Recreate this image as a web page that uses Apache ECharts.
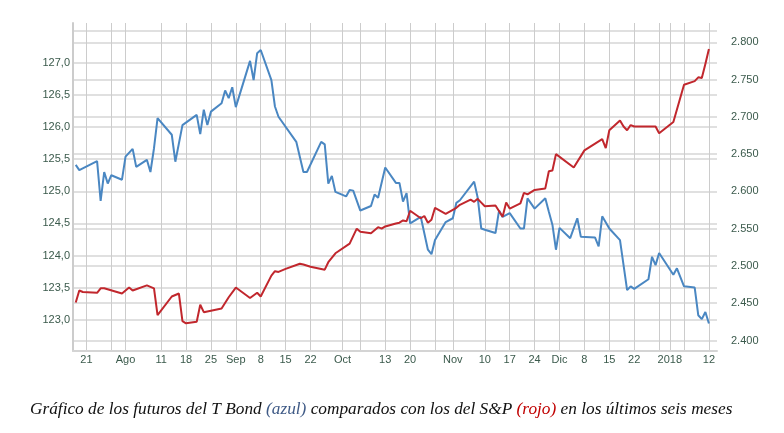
<!DOCTYPE html>
<html><head><meta charset="utf-8">
<script src="https://cdn.jsdelivr.net/npm/echarts@6/dist/echarts.min.js"></script>
<style>html,body{margin:0;padding:0;background:#fff}#c{width:784px;height:433px}</style>
</head><body><div id="c"></div>
<script>
// T-Bond futures (left axis)
const bondDates = ['2017-07-18','2017-07-19','2017-07-24','2017-07-25','2017-07-26','2017-07-27','2017-07-28','2017-07-31',
'2017-08-01','2017-08-03','2017-08-04','2017-08-07','2017-08-08','2017-08-09','2017-08-10','2017-08-14','2017-08-15','2017-08-17',
'2017-08-21','2017-08-22','2017-08-23','2017-08-24','2017-08-25','2017-08-28','2017-08-29','2017-08-30','2017-08-31',
'2017-09-01','2017-09-05','2017-09-06','2017-09-07','2017-09-08','2017-09-11','2017-09-12','2017-09-13','2017-09-18',
'2017-09-20','2017-09-21','2017-09-25','2017-09-26','2017-09-27','2017-09-28','2017-09-29',
'2017-10-02','2017-10-03','2017-10-04','2017-10-06','2017-10-09','2017-10-10','2017-10-11','2017-10-13','2017-10-16',
'2017-10-17','2017-10-18','2017-10-19','2017-10-20','2017-10-23','2017-10-25','2017-10-26','2017-10-27','2017-10-30',
'2017-11-01','2017-11-02','2017-11-03','2017-11-07','2017-11-08','2017-11-09','2017-11-10','2017-11-13','2017-11-14',
'2017-11-15','2017-11-17','2017-11-20','2017-11-21','2017-11-22','2017-11-24','2017-11-27','2017-11-28','2017-11-29','2017-11-30',
'2017-12-01','2017-12-04','2017-12-06','2017-12-07','2017-12-11','2017-12-12','2017-12-13','2017-12-15','2017-12-18',
'2017-12-20','2017-12-21','2017-12-22','2017-12-26','2017-12-27','2017-12-28','2017-12-29',
'2018-01-02','2018-01-03','2018-01-05','2018-01-08','2018-01-09','2018-01-10','2018-01-11','2018-01-12'];
const bondValues = [125.41,125.33,125.47,124.85,125.30,125.12,125.25,125.18,
125.54,125.66,125.38,125.49,125.30,125.67,126.14,125.88,125.46,126.03,
126.19,125.89,126.27,126.03,126.24,126.37,126.57,126.45,126.62,
126.31,127.03,126.73,127.15,127.20,126.73,126.32,126.16,125.77,
125.30,125.30,125.77,125.73,125.12,125.24,124.99,
124.92,125.02,125.01,124.70,124.77,124.95,124.90,125.37,125.13,
125.13,124.84,124.97,124.50,124.60,124.09,124.02,124.24,124.52,
124.58,124.82,124.86,125.15,124.90,124.42,124.40,124.35,124.70,
124.60,124.66,124.42,124.42,124.89,124.73,124.89,124.68,124.48,124.09,
124.43,124.27,124.58,124.29,124.28,124.14,124.61,124.42,124.24,
123.46,123.52,123.48,123.63,123.98,123.85,124.04,
123.70,123.80,123.52,123.50,123.07,123.01,123.12,122.94];

// S&P (right axis)
const spDates = ['2017-07-18','2017-07-19','2017-07-20','2017-07-24','2017-07-25','2017-07-26','2017-07-31',
'2017-08-02','2017-08-03','2017-08-07','2017-08-09','2017-08-10','2017-08-14','2017-08-15','2017-08-16','2017-08-17','2017-08-18',
'2017-08-21','2017-08-22','2017-08-23','2017-08-25','2017-08-28','2017-08-30',
'2017-09-01','2017-09-05','2017-09-07','2017-09-08','2017-09-11','2017-09-12','2017-09-13','2017-09-15','2017-09-19',
'2017-09-20','2017-09-22','2017-09-26','2017-09-27','2017-09-29',
'2017-10-03','2017-10-05','2017-10-06','2017-10-09','2017-10-11','2017-10-12','2017-10-13','2017-10-16','2017-10-17',
'2017-10-18','2017-10-19','2017-10-20','2017-10-23','2017-10-24','2017-10-25','2017-10-26','2017-10-27','2017-10-30',
'2017-11-02','2017-11-03','2017-11-06','2017-11-07','2017-11-08','2017-11-09','2017-11-10','2017-11-13','2017-11-15',
'2017-11-16','2017-11-17','2017-11-20','2017-11-21','2017-11-22','2017-11-24','2017-11-27','2017-11-28','2017-11-29','2017-11-30',
'2017-12-05','2017-12-08','2017-12-13','2017-12-14','2017-12-15','2017-12-18','2017-12-19','2017-12-20','2017-12-21',
'2017-12-22','2017-12-28','2017-12-29',
'2018-01-02','2018-01-05','2018-01-08','2018-01-09','2018-01-10','2018-01-11','2018-01-12'];
const spValues = [2451,2467,2465,2464,2470,2470,2463,
2471,2467,2474,2470,2434,2459,2461,2463,2426,2423,
2425,2448,2438,2440,2443,2458,
2471,2457,2464,2459,2487,2493,2492,2496,2503,
2502,2499,2495,2505,2517,
2530,2550,2546,2544,2552,2550,2553,2557,2558,
2561,2560,2574,2564,2567,2558,2562,2578,2570,
2578,2582,2589,2586,2590,2585,2580,2581,2566,
2585,2577,2584,2598,2596,2602,2604,2627,2628,2650,
2632,2655,2670,2658,2682,2695,2687,2682,2689,
2687,2687,2678,
2693,2743,2748,2753,2752,2771,2791];

// x axis grid lines and labels
const tickDates = ['2017-07-21','2017-07-28','2017-08-01','2017-08-11','2017-08-18','2017-08-25','2017-09-01','2017-09-08',
'2017-09-15','2017-09-22','2017-10-01','2017-10-06','2017-10-13','2017-10-20','2017-10-27','2017-11-01','2017-11-10',
'2017-11-17','2017-11-24','2017-12-01','2017-12-08','2017-12-15','2017-12-22','2017-12-29','2018-01-01','2018-01-05','2018-01-12'];
const tickLabels = ['21','','Ago','11','18','25','Sep','8','15','22','Oct','','13','20','','Nov','10','17','24','Dic','8','15','22','','2018','','12'];

// y axis ticks
const bondGridTicks = [123.0,123.5,124.0,124.5,125.0,125.5,126.0,126.5,127.0,127.5];
const bondLabelTicks = [123.0,123.5,124.0,124.5,125.0,125.5,126.0,126.5,127.0];
const spTicks = [2400,2450,2500,2550,2600,2650,2700,2750,2800];

const DAY = 86400000;
const x0 = Date.parse('2017-07-21');
const tickTs = tickDates.map(d => Date.parse(d));
const labelMap = {};
tickTs.forEach((t, i) => { labelMap[t] = tickLabels[i]; });

const labelColor = '#3b5a4c';
const capStyle = { fontFamily: 'Liberation Serif', fontStyle: 'italic', fontWeight: 'normal', fontSize: 17.3 };
const chart = echarts.init(document.getElementById('c'));
chart.setOption({
  animation: false,
  backgroundColor: '#ffffff',
  grid: { left: 73, right: 67, top: 23, bottom: 82 },
  title: {
    left: 25, top: 396,
    text: '{n|Gráfico de los futuros del T Bond }{b|(azul)}{n| comparados con los del S&P }{r|(rojo)}{n| en los últimos seis meses}',
    textStyle: {
      fontWeight: 'normal',
      rich: {
        n: Object.assign({ color: '#111111' }, capStyle),
        b: Object.assign({ color: '#3f5a86' }, capStyle),
        r: Object.assign({ color: '#c00000' }, capStyle)
      }
    }
  },
  xAxis: {
    type: 'value',
    min: x0 - 3.77 * DAY,
    max: x0 + 177.27 * DAY,
    axisLine: { show: true, lineStyle: { color: '#d4d4d4', width: 2 } },
    axisTick: { show: false, customValues: tickTs },
    axisLabel: {
      customValues: tickTs,
      formatter: v => (labelMap[v] !== undefined ? labelMap[v] : ''),
      color: labelColor, fontSize: 11, fontFamily: 'Liberation Sans', margin: 3,
      hideOverlap: false
    },
    splitLine: { show: true, lineStyle: { color: '#cccccc', width: 1 } }
  },
  yAxis: [
    {
      type: 'value', position: 'left',
      min: 122.513, max: 127.62,
      axisLine: { show: true, lineStyle: { color: '#cccccc', width: 2 } },
      axisTick: { show: false, customValues: bondGridTicks },
      axisLabel: {
        customValues: bondLabelTicks,
        formatter: v => v.toFixed(1).replace('.', ','),
        color: labelColor, fontSize: 11, fontFamily: 'Liberation Sans', margin: 3
      },
      splitLine: { show: true, lineStyle: { color: '#e0e0e0', width: 2 } }
    },
    {
      type: 'value', position: 'right',
      min: 2385.9, max: 2825.9,
      axisLine: { show: false },
      axisTick: { show: false, customValues: spTicks },
      axisLabel: {
        customValues: spTicks,
        formatter: v => (v / 1000).toFixed(3),
        color: labelColor, fontSize: 11, fontFamily: 'Liberation Sans', margin: 14
      },
      splitLine: { show: true, lineStyle: { color: '#e0e0e0', width: 2 } }
    }
  ],
  series: [
    {
      name: 'T Bond', type: 'line', yAxisIndex: 0, showSymbol: false,
      data: bondDates.map((d, i) => [Date.parse(d), bondValues[i]]),
      lineStyle: { color: '#4a87c2', width: 2 }, itemStyle: { color: '#4a87c2' }
    },
    {
      name: 'S&P', type: 'line', yAxisIndex: 1, showSymbol: false,
      data: spDates.map((d, i) => [Date.parse(d), spValues[i]]),
      lineStyle: { color: '#c1272d', width: 2 }, itemStyle: { color: '#c1272d' }
    }
  ]
});
</script>
</body></html>
